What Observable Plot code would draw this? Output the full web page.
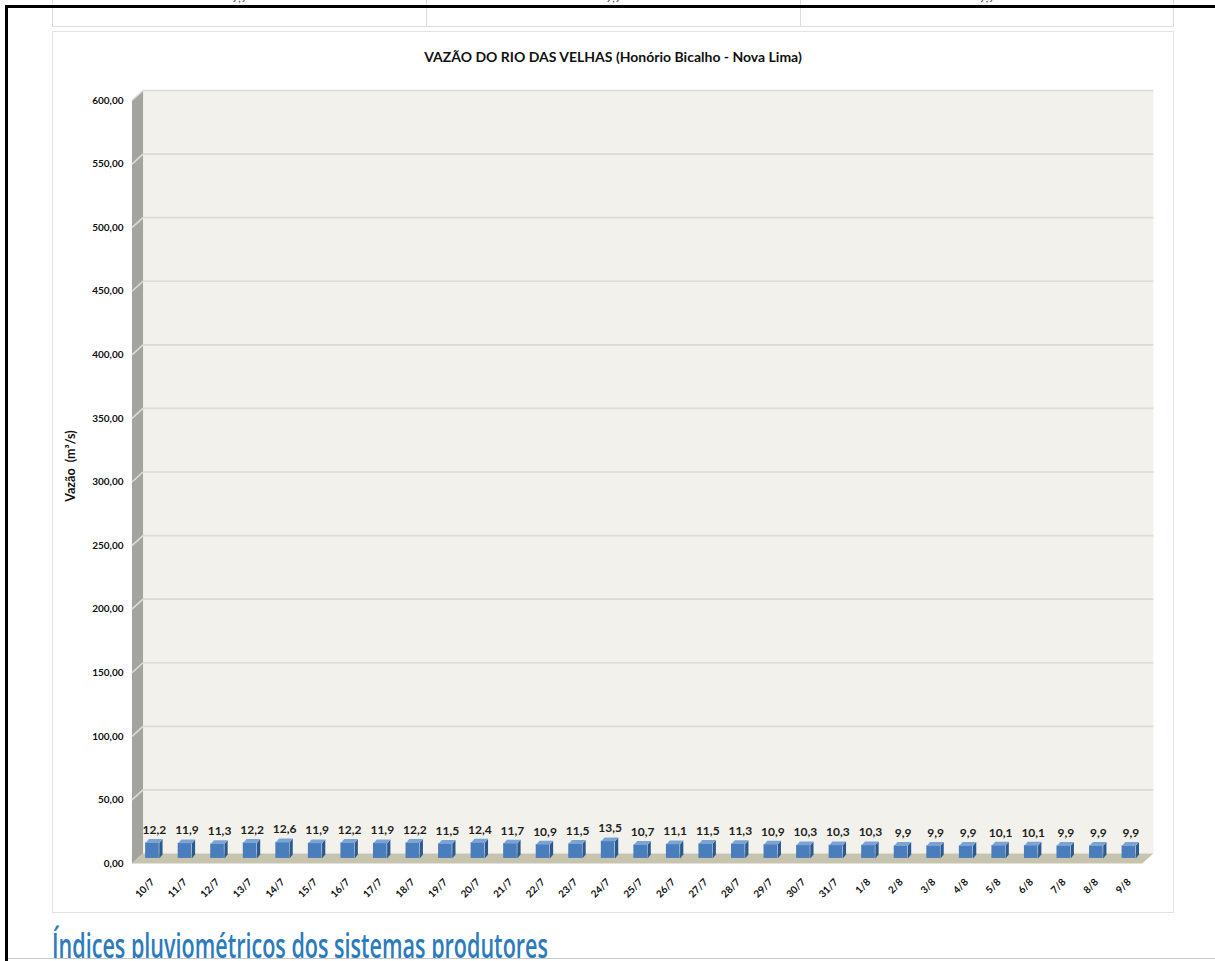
<!DOCTYPE html>
<html><head><meta charset="utf-8">
<script src="https://cdn.jsdelivr.net/npm/d3@7"></script>
<script src="https://cdn.jsdelivr.net/npm/@observablehq/plot@0.6"></script>
<style>
html,body{margin:0;padding:0;background:#fff;width:1215px;height:961px;overflow:hidden;position:relative;font-family:Lato,sans-serif}
.abs{position:absolute}
.cell{position:absolute;top:0;height:27px;box-sizing:border-box;border:1px solid #dcdcdc;border-top:none;overflow:hidden;background:#fff}
.cell span{position:absolute;left:0;right:0;text-align:center;top:-9px;font-size:11px;color:#444}
</style></head><body>
<div class="cell" style="left:52px;width:375px"><span>9,9</span></div>
<div class="cell" style="left:426px;width:375px"><span>9,9</span></div>
<div class="cell" style="left:800px;width:374px"><span>9,9</span></div>
<div class="abs" style="left:5px;top:5px;width:1210px;height:3px;background:#000"></div>
<div class="abs" style="left:5px;top:5px;width:3px;height:956px;background:#000"></div>
<div class="abs" style="left:52px;top:31px;width:1122px;height:882px;border:1px solid #e2e2e2;box-sizing:border-box"></div>
<div class="abs" id="title" style="left:52px;top:48px;width:1122px;text-align:center;font:bold 14px Lato,sans-serif;color:#111">VAZÃO DO RIO DAS VELHAS (Honório Bicalho - Nova Lima)</div>
<div id="chart" class="abs" style="left:52px;top:75px"></div>
<div class="abs" style="left:8px;top:915px;width:1207px;height:43px;overflow:hidden">
  <span id="heading" style="position:absolute;left:44px;top:7px;white-space:nowrap;font:600 34px 'Open Sans',sans-serif;color:#2c7bbd;transform-origin:0 0">Índices pluviométricos dos sistemas produtores</span>
</div>
<div class="abs" style="left:8px;top:958px;width:1207px;height:1px;background:#c8c8c8"></div>
<script>
const dates = ["10/7","11/7","12/7","13/7","14/7","15/7","16/7","17/7","18/7","19/7","20/7","21/7","22/7","23/7","24/7","25/7","26/7","27/7","28/7","29/7","30/7","31/7","1/8","2/8","3/8","4/8","5/8","6/8","7/8","8/8","9/8"];
const flow = [12.2,11.9,11.3,12.2,12.6,11.9,12.2,11.9,12.2,11.5,12.4,11.7,10.9,11.5,13.5,10.7,11.1,11.5,11.3,10.9,10.3,10.3,10.3,9.9,9.9,9.9,10.1,10.1,9.9,9.9,9.9];
const yTicks = [0,50,100,150,200,250,300,350,400,450,500,550,600];

// 3D geometry (in scale units)
const DX = 0.34, DY = 7.86, X0 = -0.67, X1 = 30.37, YMAX = 600;
const BASE = 4, BDX = 0.1, BDY = 3, FL = -0.25, FR = 0.17;

const poly = (id, pts) => pts.map(([x, y]) => ({id, x, y}));
const sideWall = poly("side", [[X0,0],[X0,YMAX],[X0+DX,YMAX+DY],[X0+DX,DY]]);
const backWall = poly("back", [[X0+DX,DY],[X1+DX,DY],[X1+DX,YMAX+DY],[X0+DX,YMAX+DY]]);
const floor = poly("floor", [[X0,0],[X1,0],[X1+DX,DY],[X0+DX,DY]]);
const grid = yTicks.filter(v => v > 0).flatMap(v => poly(v, [[X0,v],[X0+DX,v+DY],[X1+DX,v+DY]]));
const sides = flow.flatMap((v, i) => poly(i, [[i+FR,BASE],[i+FR,BASE+v],[i+FR+BDX,BASE+v+BDY],[i+FR+BDX,BASE+BDY]]));
const tops = flow.flatMap((v, i) => poly(i, [[i+FL,BASE+v],[i+FR,BASE+v],[i+FR+BDX,BASE+v+BDY],[i+FL+BDX,BASE+v+BDY]]));

const f1 = d => d3.format(".1f")(d).replace(".", ",");
const f2 = d => d3.format(".2f")(d).replace(".", ",");

const plot = Plot.plot({
  width: 1121, height: 837,
  marginLeft: 85, marginRight: 27, marginTop: 25, marginBottom: 49,
  x: {type: "linear", domain: [-0.5, 30.5], axis: null},
  y: {domain: [0, 600], axis: null},
  style: {fontFamily: "Lato, sans-serif", background: "transparent", overflow: "visible"},
  marks: [
    Plot.line(backWall, {x: "x", y: "y", z: "id", fill: "#f2f1ec", stroke: "none"}),
    Plot.line(sideWall, {x: "x", y: "y", z: "id", fill: "#a4a49e", stroke: "none"}),
    Plot.line(grid, {x: "x", y: "y", z: "id", stroke: "#dcdbd5", strokeWidth: 1.6, strokeLinecap: "butt"}),
    Plot.line(floor, {x: "x", y: "y", z: "id", fill: "#c6c4ae", stroke: "none"}),
    Plot.rect(flow, {x1: (d, i) => i + FL, x2: (d, i) => i + FR, y1: () => BASE, y2: d => BASE + d, fill: "#4a7dbb"}),
    Plot.line(sides, {x: "x", y: "y", z: "id", fill: "#2d5a8e", stroke: "none"}),
    Plot.line(tops, {x: "x", y: "y", z: "id", fill: "#7ba4d6", stroke: "none"}),
    Plot.text(flow, {x: (d, i) => i + 0.02, y: d => BASE + d + BDY, dy: -9, text: f1, fontSize: 12, fontWeight: "bold", fill: "#1e1e1e"}),
    Plot.text(dates, {x: (d, i) => i, y: () => 0, text: d => d, rotate: -45, textAnchor: "end", dx: -1, dy: 17, fontSize: 10, fontWeight: "bold", fill: "#111"}),
    Plot.text(yTicks, {frameAnchor: "left", y: d => d, text: f2, textAnchor: "end", dx: -14, fontSize: 10, fontWeight: "bold", fill: "#111"}),
    Plot.text(["Vazão\u00a0\u00a0(m³/s)"], {frameAnchor: "left", text: d => d, rotate: -90, textAnchor: "middle", dx: -67, dy: -16, fontSize: 12.5, fontWeight: "bold", fill: "#111", letterSpacing: "0.5px"})
  ]
});
document.getElementById("chart").appendChild(plot);

// fit heading to reference width
const h = document.getElementById("heading");
const w = h.getBoundingClientRect().width;
h.style.transform = `scaleX(${496 / w})`;
</script>
</body></html>
